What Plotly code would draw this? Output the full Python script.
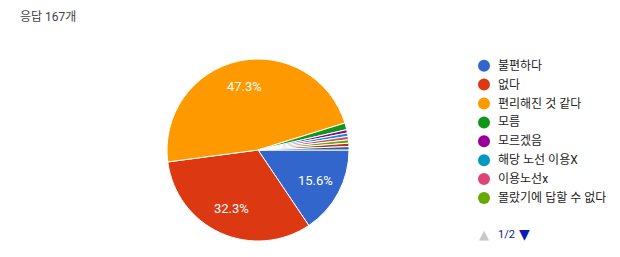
import math
import plotly.graph_objects as go

labels = ["불편하다", "없다", "편리해진 것 같다", "모름", "모르겠음", "해당 노선 이용X", "이용노선x", "몰랐기에 답할 수 없다", "기타 응답 1", "기타 응답 2"]
values = [26, 54, 79, 2, 1, 1, 1, 1, 1, 1]
colors = ["#3366cc", "#dc3912", "#ff9900", "#109618", "#990099", "#0099c6", "#dd4477", "#66aa00", "#b82e2e", "#316395"]
legend_count = 8
total = sum(values)

W, H = 620, 257
cx_px, cy_px, r_px = 258, 150, 91
fig = go.Figure()
fig.add_trace(go.Pie(
    labels=labels, values=values, sort=False, direction="clockwise", rotation=90,
    marker=dict(colors=colors, line=dict(color="white", width=1)),
    textinfo="none",
    domain=dict(x=[(cx_px - r_px) / W, (cx_px + r_px) / W], y=[1 - (cy_px + r_px) / H, 1 - (cy_px - r_px) / H]),
    showlegend=False, hoverinfo="label+percent",
))

font = "Roboto, 'Noto Sans CJK KR', sans-serif"
shapes = []
annotations = []

# slice percentage labels, placed along each slice's mid-angle (clockwise from 3 o'clock)
cum = 0.0
for v in values:
    frac = v / total
    mid = (cum + frac / 2) * 2 * math.pi
    cum += frac
    if frac < 0.05:
        continue
    dist = 0.71 * r_px
    x_px = cx_px + dist * math.cos(mid)
    y_px = cy_px + dist * math.sin(mid)
    annotations.append(dict(x=x_px / W, y=1 - y_px / H, xref="paper", yref="paper", xanchor="center",
                            yanchor="middle", text=f"{frac * 100:.1f}%", showarrow=False,
                            font=dict(size=13, color="white", family="Roboto, Arial, sans-serif")))

for i in range(legend_count):
    ypx = 65.7 + i * 18.9
    yp = 1 - ypx / H
    shapes.append(dict(type="circle", xref="paper", yref="paper", xsizemode="pixel", ysizemode="pixel",
                       xanchor=484 / W, yanchor=yp, x0=-6, x1=6, y0=-6, y1=6,
                       fillcolor=colors[i], line=dict(width=0)))
    annotations.append(dict(x=496 / W, y=yp, xref="paper", yref="paper", xanchor="left", yanchor="middle",
                            text=labels[i], showarrow=False, font=dict(size=12, color="#222222", family=font)))

annotations.append(dict(x=18 / W, y=1 - 17 / H, xref="paper", yref="paper", xanchor="left", yanchor="middle",
                        text="응답 167개", showarrow=False, font=dict(size=12, color="#444444", family=font)))
annotations.append(dict(x=484 / W, y=1 - 234 / H, xref="paper", yref="paper", xanchor="center", yanchor="middle",
                        text="▲", showarrow=False, font=dict(size=13, color="#c8c8c8", family="DejaVu Sans")))
annotations.append(dict(x=496 / W, y=1 - 234 / H, xref="paper", yref="paper", xanchor="left", yanchor="middle",
                        text="1/2", showarrow=False, font=dict(size=11, color="#0b1a8c", family=font)))
annotations.append(dict(x=524 / W, y=1 - 234 / H, xref="paper", yref="paper", xanchor="center", yanchor="middle",
                        text="▼", showarrow=False, font=dict(size=14, color="#0b1ab8", family="DejaVu Sans")))

fig.update_layout(width=W, height=H, margin=dict(l=0, r=0, t=0, b=0),
                  paper_bgcolor="white", plot_bgcolor="white",
                  shapes=shapes, annotations=annotations, showlegend=False)
fig.write_html("out.html")
